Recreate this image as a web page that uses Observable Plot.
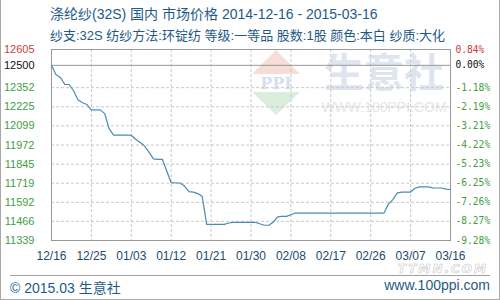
<!DOCTYPE html>
<html><head><meta charset="utf-8">
<script src="https://cdn.jsdelivr.net/npm/d3@7"></script>
<script src="https://cdn.jsdelivr.net/npm/@observablehq/plot@0.6"></script>
<style>
body{margin:0;background:#fff;}
#wrap{position:relative;width:500px;height:300px;overflow:hidden;font-family:"Liberation Sans","Noto Sans CJK SC",sans-serif;background:#fff;}
#border{position:absolute;left:0;top:0;width:500px;height:300px;box-sizing:border-box;border:1px solid #a8a8a8;border-top:none;pointer-events:none;}
.t{position:absolute;white-space:nowrap;color:#1e5a88;}
#title{left:50px;top:3px;font-size:14px;}
#sub{left:50px;top:25px;font-size:13px;}
#wm{position:absolute;left:0;top:0;}
#chart{position:absolute;left:0;top:0;}
#fline{position:absolute;left:10px;top:275px;width:480px;height:1px;background:#a0a0a0;}
#foot{left:10px;top:277px;font-size:14px;}
#site{right:10px;top:277px;font-size:14px;}
#ttmn{position:absolute;right:12px;top:264px;font-size:12px;line-height:11px;font-weight:bold;font-style:italic;color:#fff;-webkit-text-stroke:0.6px #c8c8c8;letter-spacing:2px;font-family:"DejaVu Sans",sans-serif;}
</style></head>
<body>
<div id="wrap">
  <svg id="wm" width="500" height="300">
    <polygon points="276,50 300,74 252,74" fill="#f6ddd8"/>
    <polygon points="252,92 300,92 276,115" fill="#dbeedd"/>
    <text x="276" y="89" text-anchor="middle" font-family="DejaVu Serif" font-weight="bold" font-size="16" fill="#d6dff0">PPI</text>
    <text x="384" y="87" text-anchor="middle" font-family="Noto Sans CJK SC" font-weight="bold" font-size="40" fill="#dfe5ef">生意社</text>
    <text x="384" y="112" text-anchor="middle" font-family="Liberation Sans" font-size="14" fill="#e6e6e6">WWW.100PPI.COM</text>
  </svg>
  <div id="chart"></div>
  <div class="t" id="title">涤纶纱(32S) 国内 市场价格 2014-12-16 - 2015-03-16</div>
  <div class="t" id="sub">纱支:32S 纺纱方法:环锭纺 等级:一等品 股数:1股 颜色:本白 纱质:大化</div>
  <div id="fline"></div>
  <div class="t" id="foot">© 2015.03 生意社</div>
  <div class="t" id="site">www.100ppi.com</div>
  <div id="ttmn">TTMN.COM</div>
  <div id="border"></div>
</div>
<script>
// Daily prices from 2014-12-16 to 2015-03-16 (yuan/ton)
const startDate = "2014-12-16";
const prices = [
  12500, 12440, 12420, 12373, 12373, 12330, 12270, 12252, 12240, 12205,
  12205, 12205, 12180, 12080, 12037, 12037, 12037, 12037, 12037, 12010,
  11988, 11965, 11925, 11880, 11877, 11877, 11800, 11722, 11720, 11720,
  11700, 11663, 11660, 11650, 11630, 11446, 11446, 11446, 11446, 11446,
  11455, 11459, 11459, 11459, 11459, 11459, 11459, 11450, 11440, 11440,
  11460, 11495, 11499, 11499, 11510, 11521, 11521, 11521, 11521, 11521,
  11521, 11521, 11521, 11521, 11521, 11521, 11521, 11521, 11521, 11521,
  11521, 11521, 11521, 11521, 11521, 11521, 11580, 11610, 11655, 11660,
  11660, 11660, 11685, 11694, 11694, 11694, 11688, 11687, 11687, 11680,
  11677
];
const baseValue = 12500;
const yTicks = [12605, 12500, 12352, 12225, 12099, 11972, 11845, 11719, 11592, 11466, 11339];
const pctLabels = ["0.84%", "0.00%", "-1.18%", "-2.19%", "-3.21%", "-4.22%", "-5.23%", "-6.25%", "-7.26%", "-8.27%", "-9.28%"];
const xTickLabels = ["12/16", "12/25", "01/03", "01/12", "01/21", "01/30", "02/08", "02/17", "02/26", "03/07", "03/16"];

const parse = d3.utcParse("%Y-%m-%d");
const t0 = parse(startDate);
const data = prices.map((v, i) => ({date: d3.utcDay.offset(t0, i), value: v}));
const xTicks = xTickLabels.map((_, i) => d3.utcDay.offset(t0, i * 9));
const xLabel = new Map(xTicks.map((d, i) => [+d, xTickLabels[i]]));
const pctLabel = new Map(yTicks.map((v, i) => [v, pctLabels[i]]));

const up = yTicks.filter(v => v > baseValue);
const zero = yTicks.filter(v => v === baseValue);
const down = yTicks.filter(v => v < baseValue);

const red = "#cc3b3b", green = "#3f9e3f", blk = "#111";
const leftAxis = (ticks, fill) => Plot.axisY(ticks, {anchor: "left", label: null, tickSize: 0, tickPadding: 17, fill, fontSize: 11, tickFormat: d => String(d)});
const rightAxis = (ticks, fill) => Plot.axisY(ticks, {anchor: "right", label: null, tickSize: 0, tickPadding: 5, fill, fontSize: 9.6, fontFamily: "DejaVu Sans Mono", textAnchor: "start", tickFormat: d => pctLabel.get(d)});

const chart = Plot.plot({
  width: 500,
  height: 300,
  marginLeft: 51,
  marginRight: 50,
  marginTop: 49,
  marginBottom: 60,
  style: {background: "transparent", fontFamily: "Liberation Sans, sans-serif"},
  x: {type: "utc", label: null, domain: [xTicks[0], xTicks[xTicks.length - 1]]},
  y: {label: null, domain: [yTicks[yTicks.length - 1], yTicks[0]]},
  marks: [
    Plot.ruleY(yTicks.filter(v => v !== baseValue && v !== yTicks[0] && v !== yTicks[yTicks.length-1]), {stroke: "#c8c8c8", strokeDasharray: "3,2"}),
    Plot.ruleX(xTicks.slice(1, -1), {stroke: "#c8c8c8", strokeDasharray: "3,2"}),
    Plot.ruleY([baseValue], {stroke: "#999"}),
    Plot.frame({stroke: "#999"}),
    Plot.lineY(data, {x: "date", y: "value", stroke: "#4a8bb3", strokeWidth: 1.2}),
    leftAxis(up, red), leftAxis(zero, blk), leftAxis(down, green),
    rightAxis(up, red), rightAxis(zero, blk), rightAxis(down, green),
    Plot.axisX(xTicks, {anchor: "bottom", label: null, tickSize: 0, tickPadding: 11, fontSize: 12, fill: "#1e4a6e", tickFormat: d => xLabel.get(+d)})
  ]
});
document.getElementById("chart").appendChild(chart);
</script>
</body></html>
